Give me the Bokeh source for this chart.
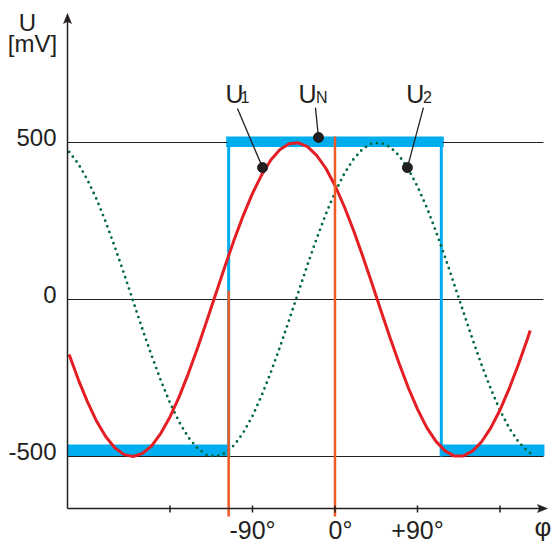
from bokeh.plotting import figure
from bokeh.models import Range1d
from bokeh.embed import file_html
from bokeh.resources import INLINE
from bokeh.core.properties import value

# ---- data (phase in degrees, voltage in mV) ----
phase = [-290, -280, -270, -260, -250, -240, -230, -220, -210, -200, -190, -180,
         -170, -160, -150, -140, -130, -120, -110, -100, -90, -80, -70, -60, -50,
         -40, -30, -20, -10, 0, 10, 20, 30, 40, 50, 60, 70, 80, 90, 100, 110, 120,
         130, 140, 150, 160, 170, 180, 190, 200, 210, 213]
u1 = [-175, -255, -326, -388, -437, -473, -494, -500, -490, -466, -426, -374,
      -310, -236, -155, -69, 18, 106, 190, 268, 338, 397, 444, 478, 496,
      499, 487, 459, 418, 363, 297, 222, 140, 54, -34, -121, -204, -281, -349, -407, -451, -482,
      -498, -498, -483, -453, -409, -352, -284, -208, -125, -99]
u2 = [470, 432, 381, 319, 246, 166, 81, -7, -95, -179, -258, -329,
      -390, -439, -474, -495, -500, -489, -464, -424, -371, -306, -232, -151, -65,
      23, 110, 194, 272, 341, 400, 446, 479, 497, 499, 486, 458, 415, 360, 294, 218, 136,
      49, -39, -126, -209, -285, -353, -409, -453, -483, -489]

# square wave U_N: switching phases and levels
un_switch = [-116, 116]
un_low, un_high = -500, 500
un_x = [un_switch[0], un_switch[0], un_switch[1], un_switch[1]]
un_y = [un_low, un_high, un_high, un_low]

# phase markers (orange lines): phase and upper end (mV)
marker_phase = [-116, 0]
marker_top = [28, 519]

# annotation anchor points on the curves and label names
annot_names = ["1", "N", "2"]
annot_phase = [-79, -18, 79]
annot_value = [420, 516, 420]

y_ticks = [-500, 0, 500]
y_tick_labels = ["-500", "0", "500"]
x_ticks = [-180, -90, 0, 90, 180]
x_label_pos = [-90, 0, 90]
x_tick_labels = ["-90°", "0°", "+90°"]

# ---- layout / styling ----
BLACK = "#231F20"
BLUE = "#00AEEF"
RED = "#E31E24"
GREEN = "#00693E"
ORANGE = "#F15A24"
FONT = "Liberation Sans"

DEG_PX = 90 / 82.5      # degrees per pixel
MV_PX = 500 / 157       # mV per pixel
LIFT = 0.4              # baseline correction, in em

X0, X1 = -364.9, 237.3   # figure edges in data units
Y0, Y1 = -783.4, 952.2
AXIS_X = -291.8          # where the vertical axis sits
AXIS_Y = -665.6          # where the horizontal axis sits
XAXIS_END = 231.8
YAXIS_END = 910.8


def lift(size_px):
    return LIFT * size_px * MV_PX


p = figure(width=552, height=545, output_backend="svg", toolbar_location=None,
           x_range=Range1d(X0, X1), y_range=Range1d(Y0, Y1),
           x_axis_location=None, y_axis_location=None, min_border=0)
p.outline_line_color = None
p.background_fill_color = "white"
p.border_fill_color = "white"
p.grid.visible = False

# U_N square wave: thick bands
p.quad(left=[un_switch[0] - 2.5 * DEG_PX], right=[un_switch[1] + 2.5 * DEG_PX],
       bottom=[un_high - 14], top=[un_high + 19], fill_color=BLUE, line_color=None)
p.quad(left=[AXIS_X, un_switch[1] - 1.5 * DEG_PX],
       right=[un_switch[0] + 1.5 * DEG_PX, XAXIS_END - 3 * DEG_PX],
       bottom=[un_low, un_low], top=[un_low + 38, un_low + 38],
       fill_color=BLUE, line_color=None)

# horizontal reference lines
p.segment(x0=[AXIS_X] * len(y_ticks), y0=y_ticks,
          x1=[XAXIS_END - 4 * DEG_PX] * len(y_ticks), y1=y_ticks,
          line_color=BLACK, line_width=1.2)

# U_N outline
p.line(un_x, un_y, line_color=BLUE, line_width=3)

# U2 dotted green, U1 red
p.line(phase, u2, line_color=GREEN, line_width=2.8, line_dash="0 6", line_cap="round")
p.line(phase, u1, line_color=RED, line_width=3)

# orange phase markers (extend a little below the axis)
p.segment(x0=marker_phase, y0=marker_top, x1=marker_phase,
          y1=[AXIS_Y - 8 * MV_PX] * len(marker_phase), line_color=ORANGE, line_width=2.5)

# axes
p.segment(x0=[AXIS_X, AXIS_X], y0=[AXIS_Y, AXIS_Y],
          x1=[XAXIS_END - 6 * DEG_PX, AXIS_X], y1=[AXIS_Y, YAXIS_END - 6 * MV_PX],
          line_color=BLACK, line_width=1.5)
hx = [[XAXIS_END, XAXIS_END - 10 * DEG_PX, XAXIS_END - 8 * DEG_PX, XAXIS_END - 10 * DEG_PX],
      [AXIS_X, AXIS_X - 4 * DEG_PX, AXIS_X, AXIS_X + 4 * DEG_PX]]
hy = [[AXIS_Y, AXIS_Y + 4 * MV_PX, AXIS_Y, AXIS_Y - 4 * MV_PX],
      [YAXIS_END, YAXIS_END - 10 * MV_PX, YAXIS_END - 8 * MV_PX, YAXIS_END - 10 * MV_PX]]
p.patches(hx, hy, fill_color=BLACK, line_color=BLACK, line_width=0.5)

# x tick marks and labels
p.segment(x0=x_ticks, y0=[AXIS_Y + 3 * MV_PX] * len(x_ticks), x1=x_ticks,
          y1=[AXIS_Y - 4 * MV_PX] * len(x_ticks), line_color=BLACK, line_width=1.5)
p.text(x=x_label_pos, y=[AXIS_Y - 31 * MV_PX + lift(25)] * len(x_label_pos),
       text=x_tick_labels, x_offset=[0, 5.5, 0], text_align="center",
       text_baseline="alphabetic", text_font=value(FONT),
       text_font_size=value("25px"), text_color=BLACK)
p.text(x=[XAXIS_END - 4.5 * DEG_PX], y=[AXIS_Y - 29 * MV_PX + lift(26)], text=["φ"],
       text_align="center", text_baseline="alphabetic",
       text_font=value(FONT), text_font_size=value("26px"), text_color=BLACK)

# y tick labels and axis title
p.text(x=[AXIS_X - 11 * DEG_PX] * len(y_ticks),
       y=[t - 5 * MV_PX + lift(24) for t in y_ticks],
       text=y_tick_labels, text_align="right", text_baseline="alphabetic",
       text_font=value(FONT), text_font_size=value("24px"), text_color=BLACK)
p.text(x=[AXIS_X - 40 * DEG_PX], y=[YAXIS_END - 19 * MV_PX + lift(24)], text=["U"],
       text_align="center", text_baseline="alphabetic",
       text_font=value(FONT), text_font_size=value("24px"), text_color=BLACK)
p.text(x=[AXIS_X - 35 * DEG_PX], y=[YAXIS_END - 40 * MV_PX + lift(24)], text=["[mV]"],
       text_align="center", text_baseline="alphabetic",
       text_font=value(FONT), text_font_size=value("24px"), text_color=BLACK)

# annotations: leader lines, dots, labels
label_phase = [-106.4, -21.3, 96.5]
label_value = [608, 611, 611]
p.segment(x0=label_phase, y0=label_value, x1=annot_phase, y1=annot_value,
          line_color=BLACK, line_width=1.3)
p.scatter(annot_phase, annot_value, size=10, fill_color=BLACK, line_color=BLACK)

u_x = [-119.5, -39.8, 77.7]
sub_x = [-103.1, -20.7, 96.0]
p.text(x=u_x, y=[624 + lift(25)] * 3, text=["U"] * 3, text_font=value(FONT),
       text_font_size=value("25px"), text_color=BLACK, text_baseline="alphabetic",
       text_align="left")
p.text(x=sub_x, y=[624 + lift(16)] * 3, text=annot_names, text_font=value(FONT),
       text_font_size=value("16px"), text_color=BLACK, text_baseline="alphabetic",
       text_align="left")

open("out.html", "w").write(file_html(p, INLINE))
